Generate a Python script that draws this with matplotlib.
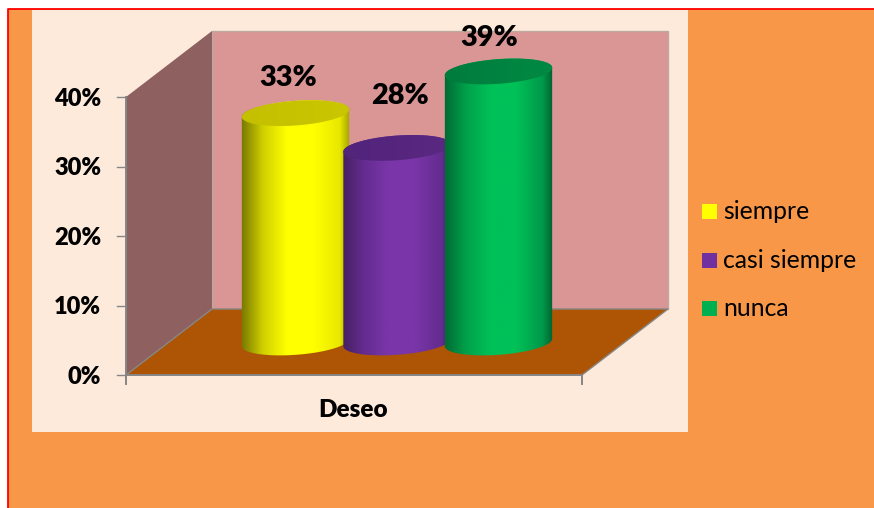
import matplotlib
matplotlib.use('Agg')
import matplotlib.pyplot as plt
import matplotlib.patches as mp
from matplotlib.colors import to_rgb
import numpy as np

plt.rcParams['font.family'] = ['Lato', 'DejaVu Sans']

series = ['siempre', 'casi siempre', 'nunca']
values = [33, 28, 39]
value_labels = ['33%', '28%', '39%']
category = 'Deseo'
ticks = [0, 10, 20, 30, 40]
tick_labels = ['0%', '10%', '20%', '30%', '40%']

legend_colors = ['#FFFF00', '#7030A0', '#00B050']
top_colors = [('#C4C000', '#CAC600'), ('#52247A', '#5A2882'), ('#007C3C', '#008A44')]
side_colors = [
    ['#767600', '#D0D000', '#FFFF00', '#FFFF00', '#E8E800', '#9A9A00'],
    ['#44205F', '#642C90', '#7A36A8', '#7A36A8', '#642C90', '#4A2070'],
    ['#006A34', '#00A04A', '#00C058', '#00C058', '#00984A', '#005C2C'],
]
stops = [0, 0.2, 0.42, 0.66, 0.9, 1]

# pixel layout of the fake 3d box
px_per_unit = 6.95
front_x0, front_x1, front_y0 = 126, 582, 375
dx, dy = 86, -66
bar_centers = [295.5, 397, 498.5]
bar_base = 342.5
semi_a, semi_b = 53.8, 12.3
tilt = np.radians(-4.2)
grey = '#868686'

fig = plt.figure(figsize=(8.74, 5.08), dpi=100, facecolor='white')
ax = fig.add_axes([0, 0, 1, 1])
ax.axis('off')


def ellipse(cx, cy, t):
    x = semi_a * np.cos(t)
    y = semi_b * np.sin(t)
    return (cx + x * np.cos(tilt) - y * np.sin(tilt),
            cy + x * np.sin(tilt) + y * np.cos(tilt))


def gradient(cols, pos, l, r, b, t, clip, z):
    xs = np.linspace(0, 1, 256)
    rgb = np.array([to_rgb(c) for c in cols])
    img = np.stack([np.interp(xs, pos, rgb[:, i]) for i in range(3)], axis=-1)[None, :, :]
    im = ax.imshow(img, extent=(l, r, b, t), aspect='auto', zorder=z, interpolation='bilinear')
    im.set_clip_path(clip)


# page background, border and chart panel
ax.add_patch(mp.Rectangle((8, 9), 866, 499, fc='#F79747', ec='none', zorder=0))
ax.plot([8, 8, 874], [508, 9, 9], color='#FF0000', lw=1.3, zorder=1)
ax.add_patch(mp.Rectangle((32, 10), 656, 422, fc='#FDEADA', ec='none', zorder=1))

# walls and floor
top = front_y0 - ticks[-1] * px_per_unit
wall = [(front_x0 + dx, top + dy), (front_x1 + dx, top + dy),
        (front_x1 + dx, front_y0 + dy), (front_x0 + dx, front_y0 + dy)]
ax.add_patch(mp.Polygon(wall, fc='#D99694', ec='#BDA9A0', lw=1, zorder=2))
side = [(front_x0, top), (front_x0 + dx, top + dy),
        (front_x0 + dx, front_y0 + dy), (front_x0, front_y0)]
ax.add_patch(mp.Polygon(side, fc='#8E6060', ec='none', zorder=2))
floor = [(front_x0, front_y0), (front_x0 + dx, front_y0 + dy),
         (front_x1 + dx, front_y0 + dy), (front_x1, front_y0)]
ax.add_patch(mp.Polygon(floor, fc='#AE5505', ec='none', zorder=2))
ax.plot([front_x0, front_x0 + dx, front_x1 + dx, front_x1],
        [front_y0, front_y0 + dy, front_y0 + dy, front_y0], color=grey, lw=1, zorder=3)

# axis lines and ticks
ax.plot([front_x0, front_x0], [top, front_y0 + 9], color=grey, lw=1.4, zorder=3)
ax.plot([front_x0, front_x1], [front_y0, front_y0], color=grey, lw=1.4, zorder=3)
ax.plot([front_x1, front_x1], [front_y0, front_y0 + 9], color=grey, lw=1.4, zorder=3)
for v, lab in zip(ticks, tick_labels):
    y = front_y0 - v * px_per_unit
    ax.plot([front_x0 - 9, front_x0], [y, y], color=grey, lw=1, zorder=3)
    ax.text(101, y + 1.8, lab, ha='right', va='center', fontsize=17, fontweight='heavy', color='black')
ax.text(353, 410, category, ha='center', va='center', fontsize=17.5, fontweight='heavy', color='black')

# cylinders, later ones sit in front
for i, (cx, v) in enumerate(zip(bar_centers, values)):
    cy_top = bar_base - v * px_per_unit
    t = np.linspace(0, np.pi, 100)
    bx, by = ellipse(cx, bar_base, t)
    tx, ty = ellipse(cx, cy_top, t + np.pi)
    outline = np.column_stack([np.r_[bx, tx], np.r_[by, ty]])
    z = 4 + i
    body = mp.Polygon(outline, fc='none', ec='none', transform=ax.transData)
    ax.add_patch(body)
    gradient(side_colors[i], stops, cx - semi_a - 1, cx + semi_a + 1,
             bar_base + 15, cy_top - 15, body, z)
    ex, ey = ellipse(cx, cy_top, np.linspace(0, 2 * np.pi, 200))
    cap = mp.Polygon(np.column_stack([ex, ey]), fc='none', ec='none', transform=ax.transData)
    ax.add_patch(cap)
    gradient(top_colors[i], [0, 1], cx - semi_a - 1, cx + semi_a + 1,
             cy_top + 15, cy_top - 15, cap, z + 0.5)

ax.set_xlim(0, 874)
ax.set_ylim(508, 0)

# value labels
label_x = [288.5, 399.5, 489]
label_gap = [35.5, 51.5, 33]
for x, gap, v, lab in zip(label_x, label_gap, values, value_labels):
    ax.text(x, bar_base - v * px_per_unit - gap, lab, ha='center', va='center',
            fontsize=20.8, fontweight='heavy', color='black', zorder=10)

# legend
for k, (name, c) in enumerate(zip(series, legend_colors)):
    y = 211.5 + k * 48.5
    ax.add_patch(mp.Rectangle((702, y - 7.5), 15, 15, fc=c, ec='none', zorder=3))
    ax.text(723, y, name, ha='left', va='center', fontsize=17.8, color='black')

fig.savefig('out.png', dpi=100)
